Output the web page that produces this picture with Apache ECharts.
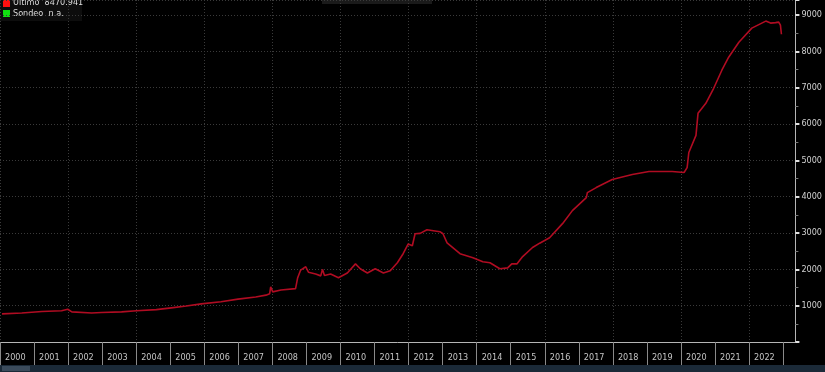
<!DOCTYPE html>
<html>
<head>
<meta charset="utf-8">
<script src="https://cdn.jsdelivr.net/npm/echarts@6/dist/echarts.min.js"></script>
<style>
  html, body { margin: 0; padding: 0; background: #000; }
  #chart { width: 825px; height: 372px; }
</style>
</head>
<body>
<div id="chart"></div>
<script>
// decimal year of each sampled point
const years = [
  2000.06, 2000.64, 2001.23, 2001.81, 2001.99, 2002.11, 2002.69, 2002.98, 2003.57, 2004.01,
  2004.59, 2005.03, 2005.47, 2005.91, 2006.49, 2006.99, 2007.51, 2007.81, 2007.92, 2007.95,
  2008.01, 2008.25, 2008.68, 2008.74, 2008.83, 2008.98, 2009.06, 2009.27, 2009.42, 2009.47,
  2009.53, 2009.71, 2009.94, 2010.20, 2010.44, 2010.58, 2010.79, 2011.02, 2011.26, 2011.46,
  2011.67, 2011.84, 2011.99, 2012.11, 2012.19, 2012.34, 2012.54, 2012.92, 2013.01, 2013.13,
  2013.51, 2013.89, 2014.18, 2014.39, 2014.68, 2014.91, 2015.03, 2015.18, 2015.35, 2015.64,
  2015.85, 2016.14, 2016.52, 2016.81, 2017.22, 2017.25, 2017.51, 2017.98, 2018.57, 2019.06,
  2019.74, 2020.09, 2020.18, 2020.23, 2020.44, 2020.50, 2020.73, 2020.96, 2021.20, 2021.40,
  2021.70, 2022.08, 2022.49, 2022.63, 2022.78, 2022.87, 2022.92, 2022.95
]
const ultimo = [
  773, 800, 840, 860, 900, 830, 800, 810, 830, 860,
  890, 940, 990, 1050, 1110, 1180, 1240, 1290, 1330, 1520,
  1380, 1430, 1470, 1760, 1980, 2070, 1920, 1870, 1820, 2000,
  1830, 1870, 1770, 1900, 2150, 2015, 1900, 2015, 1900, 1960,
  2180, 2430, 2700, 2650, 2980, 2990, 3090, 3036, 2980, 2730,
  2430, 2320, 2208, 2180, 2015, 2040, 2150, 2150, 2350, 2600,
  2720, 2870, 3257, 3616, 3974, 4112, 4250, 4471, 4609, 4692,
  4692, 4664, 4800, 5216, 5686, 6293, 6569, 6983, 7480, 7838,
  8252, 8639, 8832, 8777, 8790, 8804, 8720, 8471
]
const lastValue = '8470.941'

const xMin = 2000
const xMax = 2023.36
const yMax = 9413

const chart = echarts.init(document.getElementById('chart'))

const option = {
  backgroundColor: '#000',
  animation: false,
  grid: { left: -2, right: 28, top: 0, bottom: 30 },
  xAxis: [
    {
      type: 'value',
      min: xMin,
      max: xMax,
      interval: 1,
      axisLine: { show: true, lineStyle: { color: '#b5b5b5', width: 1 } },
      axisTick: { show: true, length: 23, lineStyle: { color: '#8a8a8a' } },
      axisLabel: {
        color: '#c4c4c4',
        fontFamily: 'DejaVu Sans Condensed',
        fontSize: 9,
        margin: 11,
        align: 'left',
        padding: [0, 0, 0, 5],
        showMaxLabel: false,
        formatter: (v) => (Number.isInteger(v) && v < 2023 ? String(v) : '')
      },
      splitLine: { show: false }
    },
    {
      // vertical grid lines every two years
      type: 'value',
      min: xMin,
      max: xMax,
      interval: 2,
      position: 'bottom',
      axisLine: { show: false },
      axisTick: { show: false },
      axisLabel: { show: false },
      splitLine: { show: true, lineStyle: { color: '#3a3a3a', type: [1, 2] } }
    }
  ],
  yAxis: {
    type: 'value',
    position: 'right',
    min: 0,
    max: yMax,
    interval: 1000,
    axisLine: { show: true, lineStyle: { color: '#b5b5b5' } },
    axisTick: { show: true, length: 4, lineStyle: { color: '#e0e0e0', width: 2 } },
    minorTick: { show: true, splitNumber: 2, length: 3, lineStyle: { color: '#777' } },
    axisLabel: {
      color: '#d0d0d0',
      fontFamily: 'DejaVu Sans Condensed',
      fontSize: 9,
      margin: 6,
      showMaxLabel: false,
      formatter: (v) => (v === 0 ? '' : String(v))
    },
    splitLine: { show: true, lineStyle: { color: '#3a3a3a', type: [1, 2] } }
  },
  series: [
    {
      type: 'line',
      xAxisIndex: 0,
      data: years.map((y, i) => [y, ultimo[i]]),
      showSymbol: false,
      lineStyle: { color: '#b00c22', width: 1.6 }
    }
  ],
  graphic: [
    // bottom scroll strip
    { type: 'rect', shape: { x: 0, y: 365, width: 825, height: 7 }, style: { fill: '#1b2a38' } },
    { type: 'rect', shape: { x: 2, y: 366, width: 28, height: 5 }, style: { fill: '#3b4b5b' } },
    // legend box
    { type: 'rect', shape: { x: 0, y: 0, width: 82, height: 21 }, style: { fill: '#0d0d0d' } },
    { type: 'rect', shape: { x: 3, y: 0, width: 7, height: 7 }, style: { fill: '#ff1010' } },
    {
      type: 'text', x: 13, y: 3,
      style: { text: 'Ultimo  ' + lastValue, fill: '#dddddd', font: '9px "DejaVu Sans Condensed"', verticalAlign: 'middle' }
    },
    { type: 'rect', shape: { x: 3, y: 10, width: 7, height: 7 }, style: { fill: '#10e010' } },
    {
      type: 'text', x: 13, y: 14,
      style: { text: 'Sondeo  n.a.', fill: '#dddddd', font: '9px "DejaVu Sans Condensed"', verticalAlign: 'middle' }
    },
    // faint toolbar at top
    { type: 'rect', shape: { x: 322, y: 0, width: 110, height: 4 }, style: { fill: '#1a1a1a' } }
  ]
}

chart.setOption(option)
</script>
</body>
</html>
